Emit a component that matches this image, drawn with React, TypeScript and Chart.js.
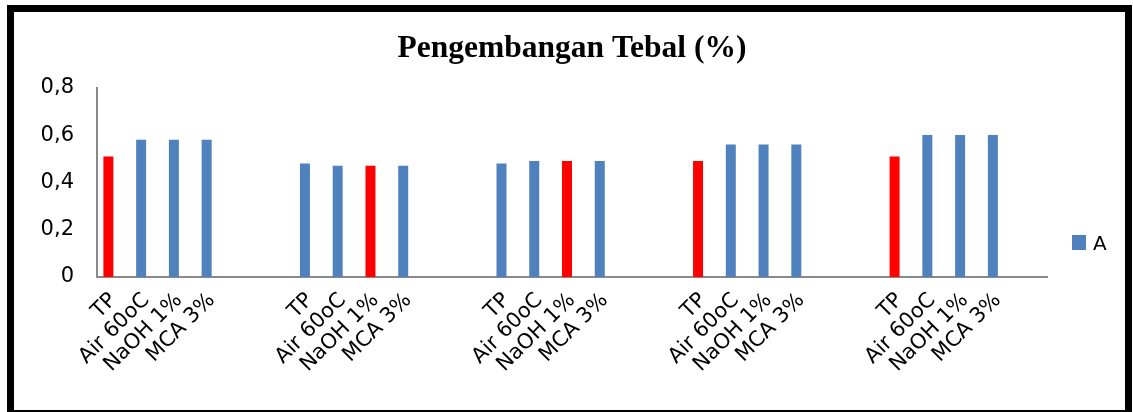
import React, { useEffect, useRef } from 'react';
import { Chart, registerables } from 'chart.js';

Chart.register(...registerables);

const chartTitle = 'Pengembangan Tebal (%)';
const seriesName = 'A';

// 5 groups of 4 treatments, separated by empty categories
const categories = [
  'TP', 'Air 60oC', 'NaOH 1%', 'MCA 3%', '', '',
  'TP', 'Air 60oC', 'NaOH 1%', 'MCA 3%', '', '',
  'TP', 'Air 60oC', 'NaOH 1%', 'MCA 3%', '', '',
  'TP', 'Air 60oC', 'NaOH 1%', 'MCA 3%', '', '',
  'TP', 'Air 60oC', 'NaOH 1%', 'MCA 3%', '',
];

const valuesA = [
  0.51, 0.58, 0.58, 0.58, null, null,
  0.48, 0.47, 0.47, 0.47, null, null,
  0.48, 0.49, 0.49, 0.49, null, null,
  0.49, 0.56, 0.56, 0.56, null, null,
  0.51, 0.60, 0.60, 0.60, null,
];

// categories whose bar is highlighted in red
const highlightedIndices = [0, 8, 14, 18, 24];

const yTickLabels = ['0', '0,2', '0,4', '0,6', '0,8'];

const BLUE = '#4F81BD';
const RED = '#FF0000';

export default function App() {
  const canvasRef = useRef<HTMLCanvasElement | null>(null);

  useEffect(() => {
    if (!canvasRef.current) return;
    const barColors = valuesA.map((_, i) => (highlightedIndices.includes(i) ? RED : BLUE));
    const emptySeries = categories.map(() => null);
    const chart = new Chart(canvasRef.current, {
      type: 'bar',
      data: {
        labels: categories,
        datasets: [
          {
            label: seriesName,
            data: valuesA,
            backgroundColor: barColors,
            borderWidth: 0,
            categoryPercentage: 0.61,
            barPercentage: 1,
          },
          {
            label: '',
            data: emptySeries,
            backgroundColor: 'rgba(0,0,0,0)',
            borderWidth: 0,
            categoryPercentage: 0.61,
            barPercentage: 1,
          },
        ],
      },
      options: {
        responsive: false,
        animation: false,
        layout: { padding: { left: 0, right: 78, top: 0, bottom: 0 } },
        plugins: {
          legend: { display: false },
          tooltip: { enabled: false },
          title: {
            display: true,
            fullSize: false,
            text: chartTitle,
            color: '#000',
            font: { family: 'Liberation Serif', size: 31.5, weight: 'bold', lineHeight: 1.2 },
            padding: { top: 18, bottom: 20 },
          },
        },
        scales: {
          x: {
            grid: { display: false, drawTicks: false },
            border: { display: true, color: '#898989', width: 2 },
            ticks: {
              autoSkip: false,
              minRotation: 45,
              maxRotation: 45,
              padding: 11,
              color: '#000',
              font: { family: 'DejaVu Sans', size: 21 },
            },
            afterFit: (s: any) => {
              s.height = 133;
            },
          },
          y: {
            min: 0,
            max: 0.8,
            grid: { display: false, drawTicks: false },
            border: { display: true, color: '#898989', width: 2 },
            ticks: {
              stepSize: 0.2,
              padding: 23,
              color: '#000',
              font: { family: 'DejaVu Sans', size: 21 },
              callback: (_v: any, i: number) => yTickLabels[i],
            },
            afterFit: (s: any) => {
              s.width = 83;
            },
          },
        },
      },
    });
    return () => chart.destroy();
  }, []);

  return (
    <div style={{ position: 'fixed', left: 0, top: 0, width: 1133, height: 412, overflow: 'hidden', background: '#fff' }}>
      <div
        style={{
          position: 'absolute',
          left: 7,
          top: 5,
          width: 1111,
          height: 398,
          border: '7px solid #000',
          background: '#fff',
        }}
      >
        <canvas ref={canvasRef} width={1111} height={398} style={{ display: 'block', width: 1111, height: 398 }} />
        <div style={{ position: 'absolute', left: 1072 - 14, top: 235 - 12, width: 14, height: 15, background: BLUE }} />
        <div
          style={{
            position: 'absolute',
            left: 1093 - 14,
            top: 233 - 12,
            fontFamily: 'DejaVu Sans',
            fontSize: 20,
            lineHeight: '20px',
            color: '#000',
            whiteSpace: 'nowrap',
          }}
        >
          {seriesName}
        </div>
      </div>
    </div>
  );
}
